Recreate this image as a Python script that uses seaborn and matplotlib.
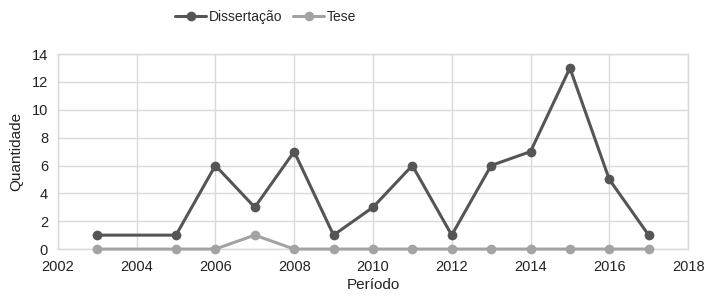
import pandas as pd
import numpy as np
import matplotlib
matplotlib.use("Agg")
import matplotlib.pyplot as plt
import seaborn as sns

# Dados
anos = [2003, 2005, 2006, 2007, 2008, 2009, 2010, 2011, 2012, 2013, 2014, 2015, 2016, 2017]
dissertacao = [1, 1, 6, 3, 7, 1, 3, 6, 1, 6, 7, 13, 5, 1]
tese = [0, 0, 0, 1, 0, 0, 0, 0, 0, 0, 0, 0, 0, 0]
series = ["Dissertação", "Tese"]
cores = ["#555555", "#a3a3a3"]

dados = pd.DataFrame({
    "Período": anos * 2,
    "Quantidade": dissertacao + tese,
    "Tipo": [series[0]] * len(anos) + [series[1]] * len(anos),
})

sns.set_style("whitegrid")
plt.rcParams["font.family"] = ["Liberation Sans Narrow", "Liberation Sans", "DejaVu Sans"]

fig = plt.figure(figsize=(7.05, 2.99), dpi=100)
ax = fig.add_axes([0.082, 0.167, 0.894, 0.652])

sns.lineplot(data=dados, x="Período", y="Quantidade", hue="Tipo", hue_order=series,
             palette=cores, marker="o", markersize=7, markeredgewidth=0,
             linewidth=2.2, ax=ax)
for ln in ax.lines:
    ln.set_clip_on(False)
    ln.set_zorder(3)

ax.set_xlim(2002, 2018)
ax.set_ylim(0, 14)
ax.set_xticks(range(2002, 2019, 2))
ax.set_yticks(range(0, 15, 2))
ax.tick_params(axis="both", labelsize=10.5, colors="#222222", length=0)
ax.tick_params(axis="x", pad=8)
ax.tick_params(axis="y", pad=7)
ax.grid(True, color="#d9d9d9", linewidth=1)
for s in ax.spines.values():
    s.set_color("#d9d9d9")
    s.set_linewidth(1)
ax.set_xlabel("Período", fontsize=11, color="#222222", labelpad=3)
ax.set_ylabel("Quantidade", fontsize=11, color="#222222", labelpad=6)

ax.legend(loc="center", bbox_to_anchor=(0.33, 1.19), ncol=2, frameon=False,
          fontsize=10, handlelength=2.2, columnspacing=0.8, handletextpad=0.2)

fig.savefig("out.png", dpi=100)
